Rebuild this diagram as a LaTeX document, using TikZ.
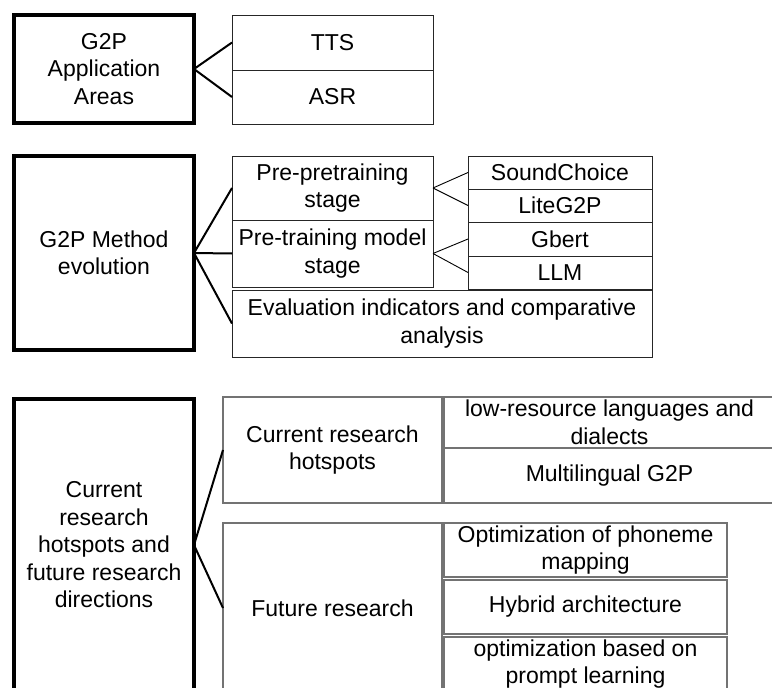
\documentclass[tikz,border=0pt]{standalone}
\usepackage{fontspec}
\setmainfont{Liberation Sans}
\usetikzlibrary{positioning}
\tikzset{every node/.style={ % Text and spacing for all boxes
            font=\fontsize{23}{27.5}\selectfont,
            align=center,
            inner sep=0pt,
            outer sep=0pt},
        topic/.style={ % Heavy frame of each main topic
            draw, line width=4pt, anchor=north west},
        cell/.style={ % Thin frame of the sub topics
            draw=black!85, line width=1pt, anchor=north west},
        graycell/.style={ % Grey frame used in the last group
            draw=black!55, line width=1.3pt, anchor=north west},
        link/.style={draw, line width=2pt},
        twig/.style={draw, line width=0.9pt}
        }

\begin{document}
\begin{tikzpicture}[x=1pt, y=-1pt]
    \useasboundingbox (0,0) rectangle (772,688);

    % Application areas
    \node[topic, minimum width=180pt, minimum height=108pt] (app) at (14,15) {G2P\\Application\\Areas};
    \node[cell, minimum width=201pt, minimum height=55pt] (tts) at (232,15) {TTS};
    \node[cell, minimum width=201pt, minimum height=54pt, below=0pt of tts] (asr) {ASR};

    % Method evolution
    \node[topic, minimum width=180pt, minimum height=194pt] (method) at (14,156) {G2P Method\\evolution};
    \node[cell, minimum width=201pt, minimum height=64pt] (pre) at (232,156) {Pre-pretraining\\stage};
    \node[cell, minimum width=201pt, minimum height=67pt, below=0pt of pre] (ptm) {Pre-training model\\stage};
    \node[cell, minimum width=420pt, minimum height=67pt] (eval) at (232,290) {Evaluation indicators and comparative\\analysis};
    \node[cell, minimum width=184pt, minimum height=33pt] (sound) at (468,156) {SoundChoice};
    \node[cell, minimum width=184pt, minimum height=33pt, below=0pt of sound] (lite) {LiteG2P};
    \node[cell, minimum width=184pt, minimum height=34pt, below=0pt of lite] (gbert) {Gbert};
    \node[cell, minimum width=184pt, minimum height=33pt, below=0pt of gbert] (llm) {LLM};

    % Hotspots and directions
    \node[topic, minimum width=180pt, minimum height=292pt] (hot) at (14,399) {Current\\research\\hotspots and\\future research\\directions};
    \node[graycell, minimum width=219pt, minimum height=106pt] (cur) at (223,397) {Current research\\hotspots};
    \node[graycell, minimum width=219pt, minimum height=170pt] (fut) at (223,523) {Future research};
    \node[graycell, minimum width=331pt, minimum height=51pt] (low) at (444,397) {low-resource languages and\\dialects};
    \node[graycell, minimum width=331pt, minimum height=55pt, below=0pt of low] (multi) {Multilingual G2P};
    \node[graycell, minimum width=283pt, minimum height=54pt] (phon) at (444,523) {Optimization of phoneme\\mapping};
    \node[graycell, minimum width=283pt, minimum height=54pt] (hyb) at (444,580) {Hybrid architecture};
    \node[graycell, minimum width=283pt, minimum height=54pt] (prompt) at (444,637) {optimization based on\\prompt learning};

    \foreach \t in {tts,asr}
        \draw[link] (app.east) -- (\t.west);
    \foreach \t in {pre,ptm,eval}
        \draw[link] (method.east) -- (\t.west);
    \foreach \t in {sound,lite}
        \draw[twig] (pre.east) -- (\t.west);
    \foreach \t in {gbert,llm}
        \draw[twig] (ptm.east) -- (\t.west);
    \foreach \t in {cur,fut}
        \draw[link] (hot.east) -- (\t.west);
\end{tikzpicture}
\end{document}
